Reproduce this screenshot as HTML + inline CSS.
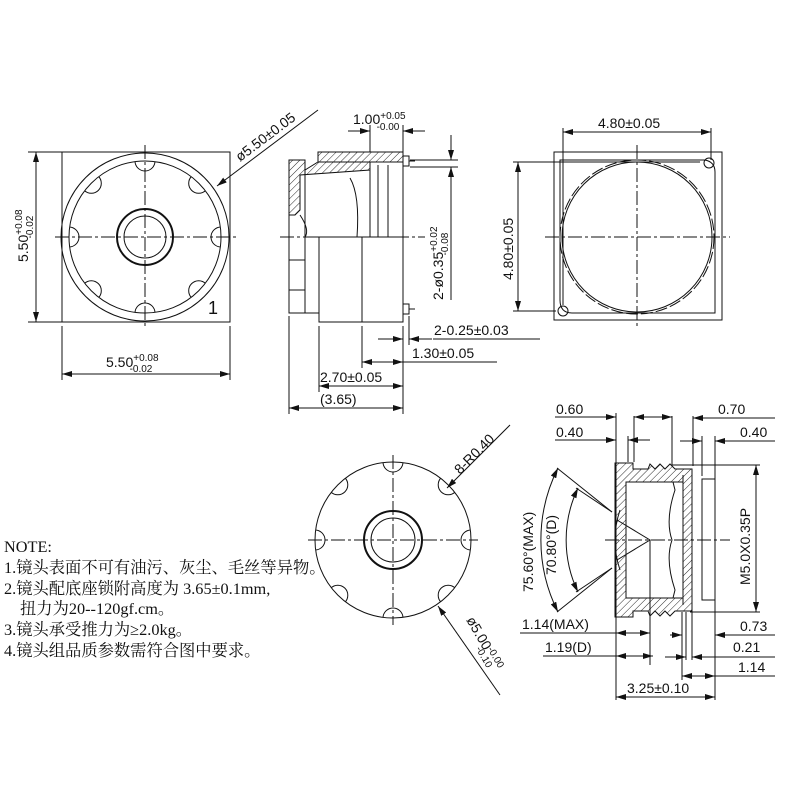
<!DOCTYPE html>
<html><head><meta charset="utf-8"><style>
html,body{margin:0;padding:0;background:#fff}
svg{display:block}
text{font-family:"Liberation Sans","DejaVu Sans",sans-serif;fill:#111}
.n{font-family:"Liberation Serif","Noto Serif CJK SC",serif;font-size:16.3px}
</style></head><body>
<svg width="800" height="800" viewBox="0 0 800 800" xmlns="http://www.w3.org/2000/svg">
<defs>
<marker id="a" markerWidth="10" markerHeight="6" refX="10" refY="3" orient="auto-start-reverse" markerUnits="userSpaceOnUse"><path d="M0,0 L10,3 L0,6z" fill="#111"/></marker>
<pattern id="h" width="5" height="5" patternUnits="userSpaceOnUse" patternTransform="rotate(45)"><line x1="0" y1="0" x2="0" y2="5" stroke="#111" stroke-width="0.9"/></pattern>
<clipPath id="c1"><circle cx="145" cy="237" r="76"/></clipPath>
<clipPath id="c2"><circle cx="393" cy="540" r="78"/></clipPath>
</defs>
<g fill="none" stroke="#111" stroke-width="1">
<rect x="62" y="152" width="168" height="170"/>
<circle cx="145" cy="237" r="84"/>
<circle cx="145" cy="237" r="76"/>
<g stroke-width="2"><circle cx="145" cy="237" r="28"/></g>
<circle cx="145" cy="237" r="21"/>
<g clip-path="url(#c1)">
<circle cx="145" cy="161" r="10"/><circle cx="145" cy="313" r="10"/>
<circle cx="69" cy="237" r="10"/><circle cx="221" cy="237" r="10"/>
<circle cx="91.3" cy="183.3" r="10"/><circle cx="198.7" cy="183.3" r="10"/>
<circle cx="91.3" cy="290.7" r="10"/><circle cx="198.7" cy="290.7" r="10"/>
</g>
<g stroke-dasharray="14,3,3,3"><line x1="55" y1="237" x2="237" y2="237"/><line x1="145" y1="145" x2="145" y2="328"/></g>
<line x1="28" y1="152" x2="62" y2="152"/><line x1="28" y1="322" x2="62" y2="322"/>
<line x1="36" y1="152" x2="36" y2="322" marker-start="url(#a)" marker-end="url(#a)"/>
<line x1="62" y1="326" x2="62" y2="380"/><line x1="230" y1="326" x2="230" y2="380"/>
<line x1="62" y1="374" x2="230" y2="374" marker-start="url(#a)" marker-end="url(#a)"/>
<line x1="318" y1="110" x2="217" y2="186" marker-end="url(#a)"/>

<rect x="289" y="160" width="16" height="153"/>
<rect x="305" y="237" width="14" height="76"/>
<rect x="319" y="237" width="84" height="85"/>
<line x1="362" y1="237" x2="362" y2="322"/>
<line x1="289" y1="260" x2="305" y2="260"/><line x1="289" y1="290" x2="305" y2="290"/>
<rect x="318" y="152" width="85" height="10" fill="url(#h)"/>
<path d="M289,160 L305,160 L305,170 L318,162 L370,162 L370,170 L300,175 L300,210 L295,215 L289,215Z" fill="url(#h)"/>
<path d="M300,215 Q310,230 305,237"/>
<path d="M350,178 Q360,195 357,237"/>
<line x1="370" y1="162" x2="370" y2="237"/><line x1="378" y1="165" x2="378" y2="237"/><line x1="388" y1="165" x2="388" y2="237"/>
<line x1="403" y1="162" x2="403" y2="237"/>
<rect x="403" y="156" width="6" height="10"/><rect x="403" y="304" width="6" height="10"/>
<line x1="409" y1="161" x2="415" y2="161"/><line x1="409" y1="309" x2="415" y2="309"/>
<g stroke-dasharray="14,3,3,3"><line x1="280" y1="237" x2="425" y2="237"/></g>
<line x1="370" y1="125" x2="370" y2="152"/><line x1="403" y1="125" x2="403" y2="152"/>
<line x1="348" y1="131" x2="370" y2="131" marker-end="url(#a)"/><line x1="425" y1="131" x2="403" y2="131" marker-end="url(#a)"/>
<line x1="410" y1="160" x2="458" y2="160"/><line x1="410" y1="167" x2="458" y2="167"/>
<line x1="451" y1="135" x2="451" y2="160" marker-end="url(#a)"/>
<line x1="451" y1="300" x2="451" y2="167" marker-end="url(#a)"/>
<line x1="289" y1="316" x2="289" y2="414"/><line x1="319" y1="326" x2="319" y2="392"/>
<line x1="362" y1="326" x2="362" y2="368"/><line x1="403" y1="326" x2="403" y2="414"/><line x1="409" y1="316" x2="409" y2="345"/>
<line x1="378" y1="339" x2="403" y2="339" marker-end="url(#a)"/><line x1="432" y1="339" x2="409" y2="339" marker-end="url(#a)"/>
<line x1="433" y1="339" x2="540" y2="339"/>
<line x1="362" y1="362" x2="403" y2="362" marker-start="url(#a)" marker-end="url(#a)"/><line x1="403" y1="362" x2="497" y2="362"/>
<line x1="319" y1="386" x2="403" y2="386" marker-start="url(#a)" marker-end="url(#a)"/>
<line x1="289" y1="408" x2="403" y2="408" marker-start="url(#a)" marker-end="url(#a)"/>

<rect x="554" y="152" width="168" height="168"/>
<path d="M560,160 L705,160 Q715,162 715,172 L715,313 L572,313 Q560,313 560,300Z"/>
<circle cx="637" cy="237" r="75"/>
<circle cx="637" cy="237" r="77" stroke-dasharray="12,3"/>
<circle cx="709" cy="163" r="5"/><circle cx="563" cy="311" r="5"/>
<g stroke-dasharray="14,3,3,3"><line x1="545" y1="237" x2="730" y2="237"/><line x1="637" y1="145" x2="637" y2="328"/></g>
<line x1="563" y1="128" x2="563" y2="305"/><line x1="711" y1="128" x2="711" y2="160"/>
<line x1="563" y1="132" x2="711" y2="132" marker-start="url(#a)" marker-end="url(#a)"/>
<line x1="513" y1="162" x2="700" y2="162"/><line x1="513" y1="311" x2="556" y2="311"/>
<line x1="518" y1="162" x2="518" y2="311" marker-start="url(#a)" marker-end="url(#a)"/>

<circle cx="393" cy="540" r="78"/>
<g stroke-width="2"><circle cx="393" cy="540" r="29"/></g>
<circle cx="393" cy="540" r="22"/>
<g clip-path="url(#c2)">
<circle cx="393" cy="462" r="10"/><circle cx="393" cy="618" r="10"/>
<circle cx="315" cy="540" r="10"/><circle cx="471" cy="540" r="10"/>
<circle cx="337.8" cy="484.8" r="10"/><circle cx="448.2" cy="484.8" r="10"/>
<circle cx="337.8" cy="595.2" r="10"/><circle cx="448.2" cy="595.2" r="10"/>
</g>
<g stroke-dasharray="14,3,3,3"><line x1="308" y1="540" x2="478" y2="540"/><line x1="393" y1="455" x2="393" y2="625"/></g>
<line x1="510" y1="425" x2="447" y2="488" marker-end="url(#a)"/>
<line x1="500" y1="695" x2="438" y2="606" marker-end="url(#a)"/>

<path d="M615,463 L633,463 L633,469 L648,469 L650,464 L655,469 L660,464 L665,469 L670,464 L675,469 L692,469 L692,611 L675,611 L670,616 L665,611 L660,616 L655,611 L650,616 L648,611 L633,611 L633,617 L615,617Z" fill="url(#h)"/>
<path d="M626,482 L683,482 L683,598 L626,598Z" fill="#fff"/>
<line x1="683" y1="475" x2="683" y2="605"/>
<path d="M673,482 L675,490 Q665,520 672,540 Q665,560 675,590 L673,598"/>
<path d="M617,520 L650,540 L617,560"/>
<path d="M620,510 Q610,540 620,570"/>
<rect x="702" y="479" width="13" height="121"/>
<g stroke-dasharray="14,3,3,3"><line x1="605" y1="540" x2="730" y2="540"/></g>
<line x1="650" y1="540" x2="650" y2="665"/>
<path d="M558,468 A160,160 0 0 0 558,612" marker-start="url(#a)" marker-end="url(#a)"/>
<path d="M578,488 A120,120 0 0 0 578,592" marker-start="url(#a)" marker-end="url(#a)"/>
<line x1="557" y1="468" x2="612" y2="512"/><line x1="557" y1="612" x2="612" y2="568"/>
<line x1="576" y1="488" x2="612" y2="512"/><line x1="576" y1="592" x2="612" y2="568"/>
<line x1="616" y1="413" x2="616" y2="700"/><line x1="628" y1="436" x2="628" y2="462"/><line x1="634" y1="416" x2="634" y2="462"/>
<line x1="672" y1="416" x2="672" y2="466"/><line x1="693" y1="416" x2="693" y2="466"/>
<line x1="702" y1="436" x2="702" y2="476"/><line x1="715" y1="436" x2="715" y2="700"/>
<line x1="555" y1="417" x2="616" y2="417" marker-end="url(#a)"/>
<line x1="555" y1="440" x2="616" y2="440" marker-end="url(#a)"/><line x1="650" y1="440" x2="628" y2="440" marker-end="url(#a)"/>
<line x1="634" y1="417" x2="672" y2="417" marker-start="url(#a)" marker-end="url(#a)"/>
<line x1="775" y1="418" x2="693" y2="418" marker-end="url(#a)"/>
<line x1="680" y1="441" x2="702" y2="441" marker-end="url(#a)"/><line x1="775" y1="441" x2="715" y2="441" marker-end="url(#a)"/>
<line x1="672" y1="465" x2="760" y2="465"/><line x1="690" y1="612" x2="760" y2="612"/>
<line x1="756" y1="465" x2="756" y2="612" marker-start="url(#a)" marker-end="url(#a)"/>
<line x1="682" y1="612" x2="682" y2="680"/><line x1="692" y1="612" x2="692" y2="660"/><line x1="686" y1="612" x2="686" y2="660"/>
<line x1="520" y1="633" x2="616" y2="633"/><line x1="616" y1="633" x2="650" y2="633" marker-start="url(#a)" marker-end="url(#a)"/>
<line x1="543" y1="656" x2="616" y2="656"/><line x1="616" y1="656" x2="653" y2="656" marker-start="url(#a)" marker-end="url(#a)"/>
<line x1="670" y1="635" x2="682" y2="635" marker-end="url(#a)"/><line x1="775" y1="635" x2="715" y2="635" marker-end="url(#a)"/>
<line x1="665" y1="657" x2="686" y2="657" marker-end="url(#a)"/><line x1="775" y1="657" x2="692" y2="657" marker-end="url(#a)"/>
<line x1="682" y1="676" x2="715" y2="676" marker-start="url(#a)" marker-end="url(#a)"/><line x1="715" y1="676" x2="775" y2="676"/>
<line x1="616" y1="697" x2="715" y2="697" marker-start="url(#a)" marker-end="url(#a)"/>
</g>

<g font-size="14">
<text transform="translate(28,262) rotate(-90)">5.50<tspan font-size="10" dy="-6">+0.08</tspan><tspan font-size="10" dx="-29" dy="11">-0.02</tspan></text>
<text x="106" y="367">5.50<tspan font-size="10" dy="-6">+0.08</tspan><tspan font-size="10" dx="-29" dy="11">-0.02</tspan></text>
<text transform="translate(240,162) rotate(-37)">ø5.50±0.05</text>
<text x="208" y="314" font-size="18">1</text>
<text x="353" y="124">1.00<tspan font-size="10" dy="-5">+0.05</tspan><tspan font-size="10" dx="-29" dy="11">-0.00</tspan></text>
<text transform="translate(443,300) rotate(-90)">2-ø0.35<tspan font-size="10" dy="-6">+0.02</tspan><tspan font-size="10" dx="-29" dy="11">-0.08</tspan></text>
<text x="434" y="335">2-0.25±0.03</text>
<text x="412" y="358">1.30±0.05</text>
<text x="320" y="382">2.70±0.05</text>
<text x="320" y="404">(3.65)</text>
<text x="598" y="128">4.80±0.05</text>
<text transform="translate(513,280) rotate(-90)">4.80±0.05</text>
<text transform="translate(460,475) rotate(-45)">8-R0.40</text>
<text transform="translate(466,620) rotate(60)">ø5.00<tspan font-size="10" dy="-4">-0.00</tspan><tspan font-size="10" dx="-29" dy="10">-0.10</tspan></text>
<text x="556" y="414">0.60</text>
<text x="556" y="437">0.40</text>
<text x="718" y="414">0.70</text>
<text x="740" y="437">0.40</text>
<text transform="translate(750,585) rotate(-90)">M5.0X0.35P</text>
<text transform="translate(533,592) rotate(-90)">75.60°(MAX)</text>
<text transform="translate(556,575) rotate(-90)">70.80°(D)</text>
<text x="522" y="629">1.14(MAX)</text>
<text x="545" y="652">1.19(D)</text>
<text x="740" y="631">0.73</text>
<text x="733" y="652">0.21</text>
<text x="738" y="672">1.14</text>
<text x="627" y="693">3.25±0.10</text>
</g>
<text class="n" x="4" y="552">NOTE:</text>
<text class="n" x="4" y="573">1.镜头表面不可有油污、灰尘、毛丝等异物。</text>
<text class="n" x="4" y="594">2.镜头配底座锁附高度为 3.65±0.1mm,</text>
<text class="n" x="20" y="614">扭力为20--120gf.cm。</text>
<text class="n" x="4" y="635">3.镜头承受推力为≥2.0kg。</text>
<text class="n" x="4" y="656">4.镜头组品质参数需符合图中要求。</text>
</svg>
</body></html>
